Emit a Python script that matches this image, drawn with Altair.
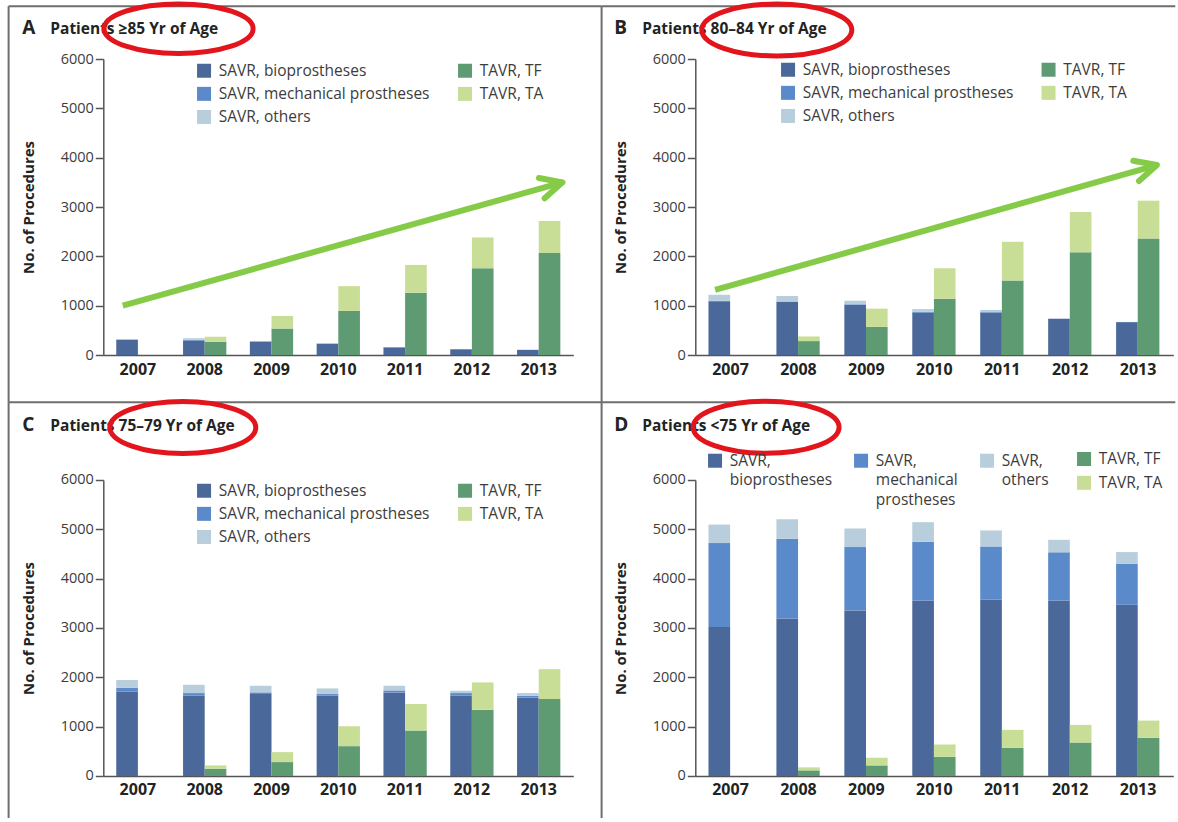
import math

import altair as alt
import pandas as pd

# ---------------------------------------------------------------- data
YEARS = ["2007", "2008", "2009", "2010", "2011", "2012", "2013"]

SAVR_TYPES = ["SAVR, bioprostheses", "SAVR, mechanical prostheses", "SAVR, others"]
TAVR_TYPES = ["TAVR, TF", "TAVR, TA"]
SAVR_COLORS = ["#4a6899", "#5b8acb", "#b8cedc"]
TAVR_COLORS = ["#5e9b72", "#c8de97"]

# A: patients >=85 yr
A_BIO = [310, 295, 272, 228, 155, 116, 102]
A_MECH = [5, 15, 5, 4, 3, 3, 3]
A_OTHER = [8, 30, 5, 4, 3, 2, 2]
A_TF = [0, 268, 537, 893, 1262, 1758, 2067]
A_TA = [0, 102, 255, 503, 564, 625, 651]

# B: patients 80-84 yr
B_BIO = [1087, 1074, 1020, 860, 859, 733, 666]
B_MECH = [12, 10, 10, 15, 10, 3, 3]
B_OTHER = [122, 111, 71, 55, 45, 2, 2]
B_TF = [0, 282, 570, 1141, 1510, 2081, 2362]
B_TA = [0, 94, 370, 617, 785, 818, 766]

# C: patients 75-79 yr
C_BIO = [1715, 1627, 1661, 1627, 1695, 1627, 1587]
C_MECH = [74, 54, 34, 34, 40, 54, 40]
C_OTHER = [155, 168, 134, 114, 94, 47, 54]
C_TF = [0, 148, 282, 605, 921, 1345, 1560]
C_TA = [0, 67, 202, 404, 538, 552, 605]

# D: patients <75 yr
D_BIO = [3020, 3194, 3356, 3557, 3578, 3557, 3470]
D_MECH = [1701, 1614, 1284, 1191, 1076, 976, 834]
D_OTHER = [376, 397, 377, 397, 323, 255, 235]
D_TF = [0, 114, 215, 390, 572, 679, 773]
D_TA = [0, 61, 155, 249, 363, 357, 350]

# trend arrows (position in years, number of procedures)
A_ARROW_YEAR = [2006.79, 2013.34]
A_ARROW_COUNT = [1000, 3500]
B_ARROW_YEAR = [2006.79, 2013.26]
B_ARROW_COUNT = [1320, 3850]

# ---------------------------------------------------------------- style
FONT = "Open Sans"
TEXT_DARK = "#232323"
LABEL_GREY = "#3c3c3c"
AXIS_GREY = "#555555"
FRAME_GREY = "#6e6e6e"
ARROW_GREEN = "#86cb48"
CIRCLE_RED = "#e2141c"

PLOT_H = 296
LEFT_W = 470
RIGHT_W = 478
COL_GAP = 122
ROW_GAP = 125

# page geometry (pixels)
FRAME_LEFT, FRAME_TOP = 8.3, 7.3
DIVIDER_X, DIVIDER_Y = 601.3, 403.3
PAGE_RIGHT, PAGE_BOTTOM = 1175, 819
FRAME_W = 2
PLOT_LEFT, PLOT_TOP = 103, 60
ORIGIN = {
    "A": (PLOT_LEFT, PLOT_TOP),
    "B": (PLOT_LEFT + LEFT_W + COL_GAP, PLOT_TOP),
    "C": (PLOT_LEFT, PLOT_TOP + PLOT_H + ROW_GAP),
    "D": (PLOT_LEFT + LEFT_W + COL_GAP, PLOT_TOP + PLOT_H + ROW_GAP),
}

ONE = pd.DataFrame({"k": [0]})
CHEVRON = "M -0.899 -0.438 L 0 0 L -0.899 0.438"
RAISED_SQUARE = "M -1 0 H 1 V 2 H -1 Z"

# legend labels broken word by word, padded to three lines so entries align
WRAP_LABEL = (
    "length(split(datum.label, ' ')) < 3 ? "
    "[split(datum.label, ' ')[0], split(datum.label, ' ')[1], ' '] : "
    "split(datum.label, ' ')"
)


def ellipse_path(ratio):
    k, r = 0.5523, ratio
    return (
        f"M -1 0 C -1 {-k * r:.4f} {-k:.4f} {-r:.4f} 0 {-r:.4f} "
        f"C {k:.4f} {-r:.4f} 1 {-k * r:.4f} 1 0 "
        f"C 1 {k * r:.4f} {k:.4f} {r:.4f} 0 {r:.4f} "
        f"C {-k:.4f} {r:.4f} -1 {k * r:.4f} -1 0 Z"
    )


def long_frame(series, types, group):
    rows = []
    for rank, (name, values) in enumerate(zip(types, series)):
        for year, value in zip(YEARS, values):
            rows.append({"year": year, "type": name, "count": value,
                         "rank": rank, "group": group})
    return pd.DataFrame(rows)


X_AXIS = alt.Axis(title=None, labelAngle=0, labelFont=FONT, labelFontSize=16,
                  labelFontWeight="bold", labelColor=TEXT_DARK, labelPadding=6,
                  ticks=False, tickSize=0, domainColor=AXIS_GREY, domainWidth=1.5,
                  grid=False)
Y_AXIS = alt.Axis(values=[0, 1000, 2000, 3000, 4000, 5000, 6000], format="d",
                  grid=False, title="No. of Procedures", titleFont=FONT,
                  titleFontSize=15, titleFontWeight="bold", titleColor=TEXT_DARK,
                  titlePadding=24, labelFont=FONT, labelFontSize=14.5,
                  labelColor=LABEL_GREY, labelPadding=2, tickSize=8,
                  tickColor=AXIS_GREY, tickWidth=1.5, domainColor=AXIS_GREY,
                  domainWidth=1.5)


def bars(df, types, colors, legend):
    return alt.Chart(df).mark_bar(strokeWidth=0).encode(
        x=alt.X("year:N", scale=alt.Scale(domain=YEARS, paddingInner=0.352,
                                          paddingOuter=0.194), axis=X_AXIS),
        xOffset=alt.XOffset("group:N", scale=alt.Scale(domain=["SAVR", "TAVR"],
                                                       paddingInner=0, paddingOuter=0)),
        y=alt.Y("count:Q", stack="zero", scale=alt.Scale(domain=[0, 6000], nice=False),
                axis=Y_AXIS),
        color=alt.Color("type:N", scale=alt.Scale(domain=types, range=colors),
                        legend=legend),
        order=alt.Order("rank:Q", sort="ascending"),
    )


def legend_v(x, y, row_pad):
    return alt.Legend(orient="none", legendX=x, legendY=y, title=None,
                      direction="vertical", symbolType="square", symbolSize=196,
                      symbolStrokeWidth=0, symbolOpacity=1, labelFont=FONT,
                      labelFontSize=15.5, labelColor=LABEL_GREY, labelOffset=7,
                      labelLimit=400, rowPadding=row_pad, padding=0)


def legend_wrapped(x, y):
    return alt.Legend(orient="none", legendX=x, legendY=y, title=None,
                      direction="horizontal", symbolType=RAISED_SQUARE,
                      symbolSize=196, symbolStrokeWidth=0, symbolOpacity=1,
                      labelFont=FONT, labelFontSize=15.5, labelColor=LABEL_GREY,
                      labelOffset=7, labelBaseline="top", labelLimit=400,
                      labelExpr=WRAP_LABEL, columnPadding=21, padding=0)


def rule(ox, oy, x1, y1, x2, y2):
    return alt.Chart(ONE).mark_rule(color=FRAME_GREY, strokeWidth=FRAME_W,
                                    strokeJoin="round").encode(
        x=alt.value(x1 - ox), x2=alt.value(x2 - ox),
        y=alt.value(y1 - oy), y2=alt.value(y2 - oy))


def label(ox, oy, text, x, y, size):
    return alt.Chart(ONE).mark_text(
        text=text, font=FONT, fontSize=size, fontWeight="bold", color=TEXT_DARK,
        align="left", baseline="alphabetic",
    ).encode(x=alt.value(x - ox), y=alt.value(y - oy))


def ring(ox, oy, cx, cy, rx, ry):
    return alt.Chart(ONE).mark_point(
        shape=ellipse_path(ry / rx), size=4 * rx * rx, filled=False,
        color=CIRCLE_RED, stroke=CIRCLE_RED, strokeWidth=5, strokeJoin="round",
        opacity=1,
    ).encode(x=alt.value(cx - ox), y=alt.value(cy - oy))


def arrow(years, counts, width):
    df = pd.DataFrame({"x": [years[0]], "y": [counts[0]],
                       "x2": [years[1]], "y2": [counts[1]]})
    xs = alt.Scale(domain=[2006.5, 2013.5], nice=False, zero=False)
    ys = alt.Scale(domain=[0, 6000], nice=False)
    dx = (years[1] - years[0]) / 7 * width
    dy = (counts[1] - counts[0]) / 6000 * PLOT_H
    angle = (360 - math.degrees(math.atan2(dy, dx))) % 360
    shaft = alt.Chart(df).mark_rule(color=ARROW_GREEN, strokeWidth=6,
                                    strokeCap="butt").encode(
        x=alt.X("x:Q", scale=xs, axis=None), x2="x2:Q",
        y=alt.Y("y:Q", scale=ys, axis=None), y2="y2:Q")
    head = alt.Chart(df).mark_point(
        shape=CHEVRON, size=2304, filled=False, color=ARROW_GREEN,
        stroke=ARROW_GREEN, strokeWidth=6, strokeCap="round", strokeJoin="round",
        opacity=1, angle=angle,
    ).encode(x=alt.X("x2:Q", scale=xs, axis=None),
             y=alt.Y("y2:Q", scale=ys, axis=None))
    return alt.layer(shaft, head)


def panel(key, width, savr, tavr, letter, heading, title_y, savr_legend,
          tavr_legend, ellipse, frame, trend=None):
    ox, oy = ORIGIN[key]
    bar_layers = alt.layer(
        bars(long_frame(savr, SAVR_TYPES, "SAVR"), SAVR_TYPES, SAVR_COLORS, savr_legend),
        bars(long_frame(tavr, TAVR_TYPES, "TAVR"), TAVR_TYPES, TAVR_COLORS, tavr_legend),
    ).resolve_scale(color="independent")
    layers = [rule(ox, oy, *seg) for seg in frame]
    layers.append(bar_layers)
    if trend is not None:
        layers.append(arrow(trend[0], trend[1], width))
    layers.append(label(ox, oy, letter, ox - 81, title_y, 19))
    layers.append(label(ox, oy, heading, ox - 53, title_y, 15.5))
    layers.append(ring(ox, oy, *ellipse))
    return alt.layer(*layers).resolve_scale(
        x="independent", y="independent", color="independent"
    ).properties(width=width, height=PLOT_H)


panel_a = panel(
    "A", LEFT_W, [A_BIO, A_MECH, A_OTHER], [A_TF, A_TA], "A",
    "Patients \u226585 Yr of Age", 35,
    legend_v(93, 4, 6.1), legend_v(354, 4, 6.1),
    (178.3, 29.7, 74.5, 24.7),
    [(FRAME_LEFT, FRAME_TOP, DIVIDER_X, FRAME_TOP),
     (FRAME_LEFT, FRAME_TOP, FRAME_LEFT, DIVIDER_Y),
     (FRAME_LEFT, DIVIDER_Y, DIVIDER_X, DIVIDER_Y)],
    trend=(A_ARROW_YEAR, A_ARROW_COUNT),
)

panel_b = panel(
    "B", RIGHT_W, [B_BIO, B_MECH, B_OTHER], [B_TF, B_TA], "B",
    "Patients 80\u201384 Yr of Age", 35,
    legend_v(85, 3, 6.1), legend_v(345.5, 3, 6.1),
    (776.5, 31.0, 75.0, 26.0),
    [(DIVIDER_X, FRAME_TOP, PAGE_RIGHT, FRAME_TOP),
     (DIVIDER_X, FRAME_TOP, DIVIDER_X, DIVIDER_Y),
     (DIVIDER_X, DIVIDER_Y, PAGE_RIGHT, DIVIDER_Y)],
    trend=(B_ARROW_YEAR, B_ARROW_COUNT),
)

panel_c = panel(
    "C", LEFT_W, [C_BIO, C_MECH, C_OTHER], [C_TF, C_TA], "C",
    "Patients 75\u201379 Yr of Age", 431.7,
    legend_v(93, 3, 6.1), legend_v(354, 3, 6.1),
    (182.5, 428.5, 73.0, 26.0),
    [(FRAME_LEFT, DIVIDER_Y, FRAME_LEFT, PAGE_BOTTOM)],
)

panel_d = panel(
    "D", RIGHT_W, [D_BIO, D_MECH, D_OTHER], [D_TF, D_TA], "D",
    "Patients <75 Yr of Age", 431.7,
    legend_wrapped(12, -34.2), legend_v(381, -28.75, 6.8),
    (765.8, 428.3, 73.0, 26.0),
    [(DIVIDER_X, DIVIDER_Y, DIVIDER_X, PAGE_BOTTOM)],
)

chart = alt.concat(
    panel_a, panel_b, panel_c, panel_d, columns=2,
    spacing={"row": ROW_GAP, "column": COL_GAP}, bounds="flush", align="each",
).properties(
    padding={"left": FRAME_LEFT - FRAME_W, "top": 0, "right": 0, "bottom": 0},
    background="white",
).configure(
    style={"guide-label": {"lineHeight": 19.7}}
).configure_view(stroke="transparent")

chart.save("out.html", embed_options={"renderer": "svg", "actions": False})
